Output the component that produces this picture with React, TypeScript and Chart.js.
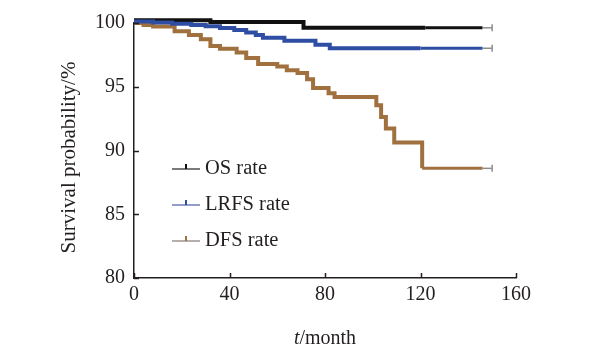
import React, { useEffect, useRef } from "react";
import { Chart, registerables } from "chart.js";

Chart.register(...registerables);

const FONT = "'Liberation Serif', 'Times New Roman', serif";
const TEXT = "#231f20";

const xTicks = [0, 40, 80, 120, 160];
const yTicks = [80, 85, 90, 95, 100];
const seriesNames = ["OS rate", "LRFS rate", "DFS rate"];
const xTitleItalic = "t";
const xTitleRest = "/month";
const yTitle = "Survival probability/%";

// Kaplan–Meier step points: month where the level starts, and the level (%)
const osMonths = [0, 32, 71, 122, 146, 150];
const osValues = [100.22, 100.08, 99.62, 99.62, 99.62, 99.62];

const lrfsMonths = [0, 8, 16, 24, 30, 36, 42, 47, 51, 54, 63, 76, 82, 120, 146, 150];
const lrfsValues = [100.12, 100.04, 99.95, 99.85, 99.75, 99.6, 99.45, 99.25, 99.05, 98.85, 98.6, 98.3, 98.02, 98.02, 98.02, 98.02];

const dfsMonths = [0, 4, 8, 17, 23, 28, 32, 36, 43, 47, 52, 60, 64, 68.5, 72.5, 75, 81.5, 84, 101.5, 103.5, 105.5, 109, 120.7, 146, 150];
const dfsValues = [100.0, 99.85, 99.72, 99.35, 99.05, 98.72, 98.2, 97.98, 97.68, 97.25, 96.78, 96.59, 96.3, 96.07, 95.58, 94.9, 94.5, 94.2, 93.55, 92.63, 91.72, 90.62, 88.6, 88.6, 88.6];

// month where dense censoring thins out, and last dense censoring
const osTailStart = 122;
const lrfsTailStart = 120;
const dfsTailStart = 120.7;
const censorEnd = 146;

const colors = ["#111111", "#2f4ea3", "#a0703f"];
const legendLineColors = ["#333333", "#5a66b0", "#8f837c"];
const thinColor = "#8c8c8c";

function toPoints(xs: number[], ys: number[]) {
  return xs.map((x, i) => ({ x, y: ys[i] }));
}

function makeDataset(label: string, xs: number[], ys: number[], color: string, tailStart: number, order: number) {
  return {
    label,
    data: toPoints(xs, ys),
    stepped: true as const,
    clip: false,
    borderColor: color,
    borderWidth: 4,
    borderCapStyle: "butt" as const,
    fill: false,
    order,
    segment: {
      borderWidth: (c: any) => (c.p0.parsed.x >= censorEnd ? 1.5 : c.p0.parsed.x >= tailStart ? 3 : 4),
      borderColor: (c: any) => (c.p0.parsed.x >= censorEnd ? thinColor : color),
    },
    pointStyle: "line" as const,
    rotation: 90,
    pointRadius: (c: any) => (c.dataIndex === xs.length - 1 ? 3.5 : 0),
    pointBorderColor: thinColor,
    pointBorderWidth: 1.5,
    pointHoverRadius: 0,
  };
}

const axisTicksPlugin = {
  id: "inwardTicks",
  afterDraw(chart: any) {
    const { ctx, scales } = chart;
    const xs = scales.x;
    const ys = scales.y;
    ctx.save();
    ctx.strokeStyle = TEXT;
    ctx.lineWidth = 1.5;
    ctx.beginPath();
    for (const v of yTicks) {
      const py = Math.round(ys.getPixelForValue(v)) + 0.5;
      ctx.moveTo(xs.left, py);
      ctx.lineTo(xs.left + 5, py);
    }
    for (const v of xTicks) {
      const px = Math.round(xs.getPixelForValue(v)) + 0.5;
      ctx.moveTo(px, ys.bottom);
      ctx.lineTo(px, ys.bottom - 5);
    }
    ctx.stroke();

    // x title with italic t
    ctx.fillStyle = TEXT;
    ctx.textBaseline = "alphabetic";
    ctx.font = `italic 20px ${FONT}`;
    const w1 = ctx.measureText(xTitleItalic).width;
    ctx.font = `20px ${FONT}`;
    const w2 = ctx.measureText(xTitleRest).width;
    const cx = (xs.left + xs.right) / 2;
    const startX = cx - (w1 + w2) / 2;
    const by = ys.bottom + 66;
    ctx.font = `italic 20px ${FONT}`;
    ctx.textAlign = "left";
    ctx.fillText(xTitleItalic, startX, by);
    ctx.font = `20px ${FONT}`;
    ctx.fillText(xTitleRest, startX + w1, by);

    // y title
    ctx.save();
    ctx.translate(75, (ys.top + ys.bottom) / 2 + 7);
    ctx.rotate(-Math.PI / 2);
    ctx.textAlign = "center";
    ctx.font = `21px ${FONT}`;
    ctx.fillText(yTitle, 0, 0);
    ctx.restore();
    ctx.restore();
  },
};

const legendPlugin = {
  id: "kmLegend",
  afterDatasetsDraw(chart: any) {
    const { ctx, chartArea } = chart;
    const left = chartArea.left + 38;
    const top0 = chartArea.top + 146;
    const gap = 36;
    ctx.save();
    seriesNames.forEach((name, i) => {
      const y = top0 + i * gap;
      ctx.strokeStyle = legendLineColors[i];
      ctx.lineWidth = 1.3;
      ctx.beginPath();
      ctx.moveTo(left, y);
      ctx.lineTo(left + 28, y);
      ctx.stroke();
      ctx.strokeStyle = colors[i];
      ctx.lineWidth = 2;
      ctx.beginPath();
      ctx.moveTo(left + 14, y - 5);
      ctx.lineTo(left + 14, y);
      ctx.stroke();
      ctx.fillStyle = TEXT;
      ctx.font = `20.5px ${FONT}`;
      ctx.textAlign = "left";
      ctx.textBaseline = "alphabetic";
      ctx.fillText(name, left + 33, y + 5);
    });
    ctx.restore();
  },
};

export default function App() {
  const ref = useRef<HTMLCanvasElement>(null);
  useEffect(() => {
    if (!ref.current) return;
    const chart = new Chart(ref.current, {
      type: "line",
      data: {
        datasets: [
          makeDataset(seriesNames[0], osMonths, osValues, colors[0], osTailStart, 2),
          makeDataset(seriesNames[1], lrfsMonths, lrfsValues, colors[1], lrfsTailStart, 1),
          makeDataset(seriesNames[2], dfsMonths, dfsValues, colors[2], dfsTailStart, 3),
        ] as any,
      },
      options: {
        responsive: false,
        animation: false,
        devicePixelRatio: 1,
        layout: { padding: { top: 23, right: 91, left: 0, bottom: 0 } },
        plugins: { legend: { display: false }, tooltip: { enabled: false } },
        scales: {
          x: {
            type: "linear",
            min: 0,
            max: 160,
            afterBuildTicks: (s: any) => {
              s.ticks = xTicks.map((v) => ({ value: v }));
            },
            afterFit: (s: any) => {
              s.height = 78;
            },
            grid: { display: false, drawTicks: false },
            border: { display: true, color: TEXT, width: 1.5 },
            ticks: { padding: 5, color: TEXT, font: { family: FONT, size: 20 }, maxRotation: 0 },
          },
          y: {
            type: "linear",
            min: 80,
            max: 100,
            afterBuildTicks: (s: any) => {
              s.ticks = yTicks.map((v) => ({ value: v }));
            },
            afterFit: (s: any) => {
              s.width = 134;
            },
            grid: { display: false, drawTicks: false },
            border: { display: true, color: TEXT, width: 1.5 },
            ticks: { padding: 9, color: TEXT, font: { family: FONT, size: 20 } },
          },
        },
      },
      plugins: [axisTicksPlugin, legendPlugin],
    });
    return () => chart.destroy();
  }, []);
  return (
    <div style={{ position: "absolute", left: 0, top: 0, width: 607, height: 356 }}>
      <canvas ref={ref} width={607} height={356} style={{ display: "block" }} />
    </div>
  );
}
